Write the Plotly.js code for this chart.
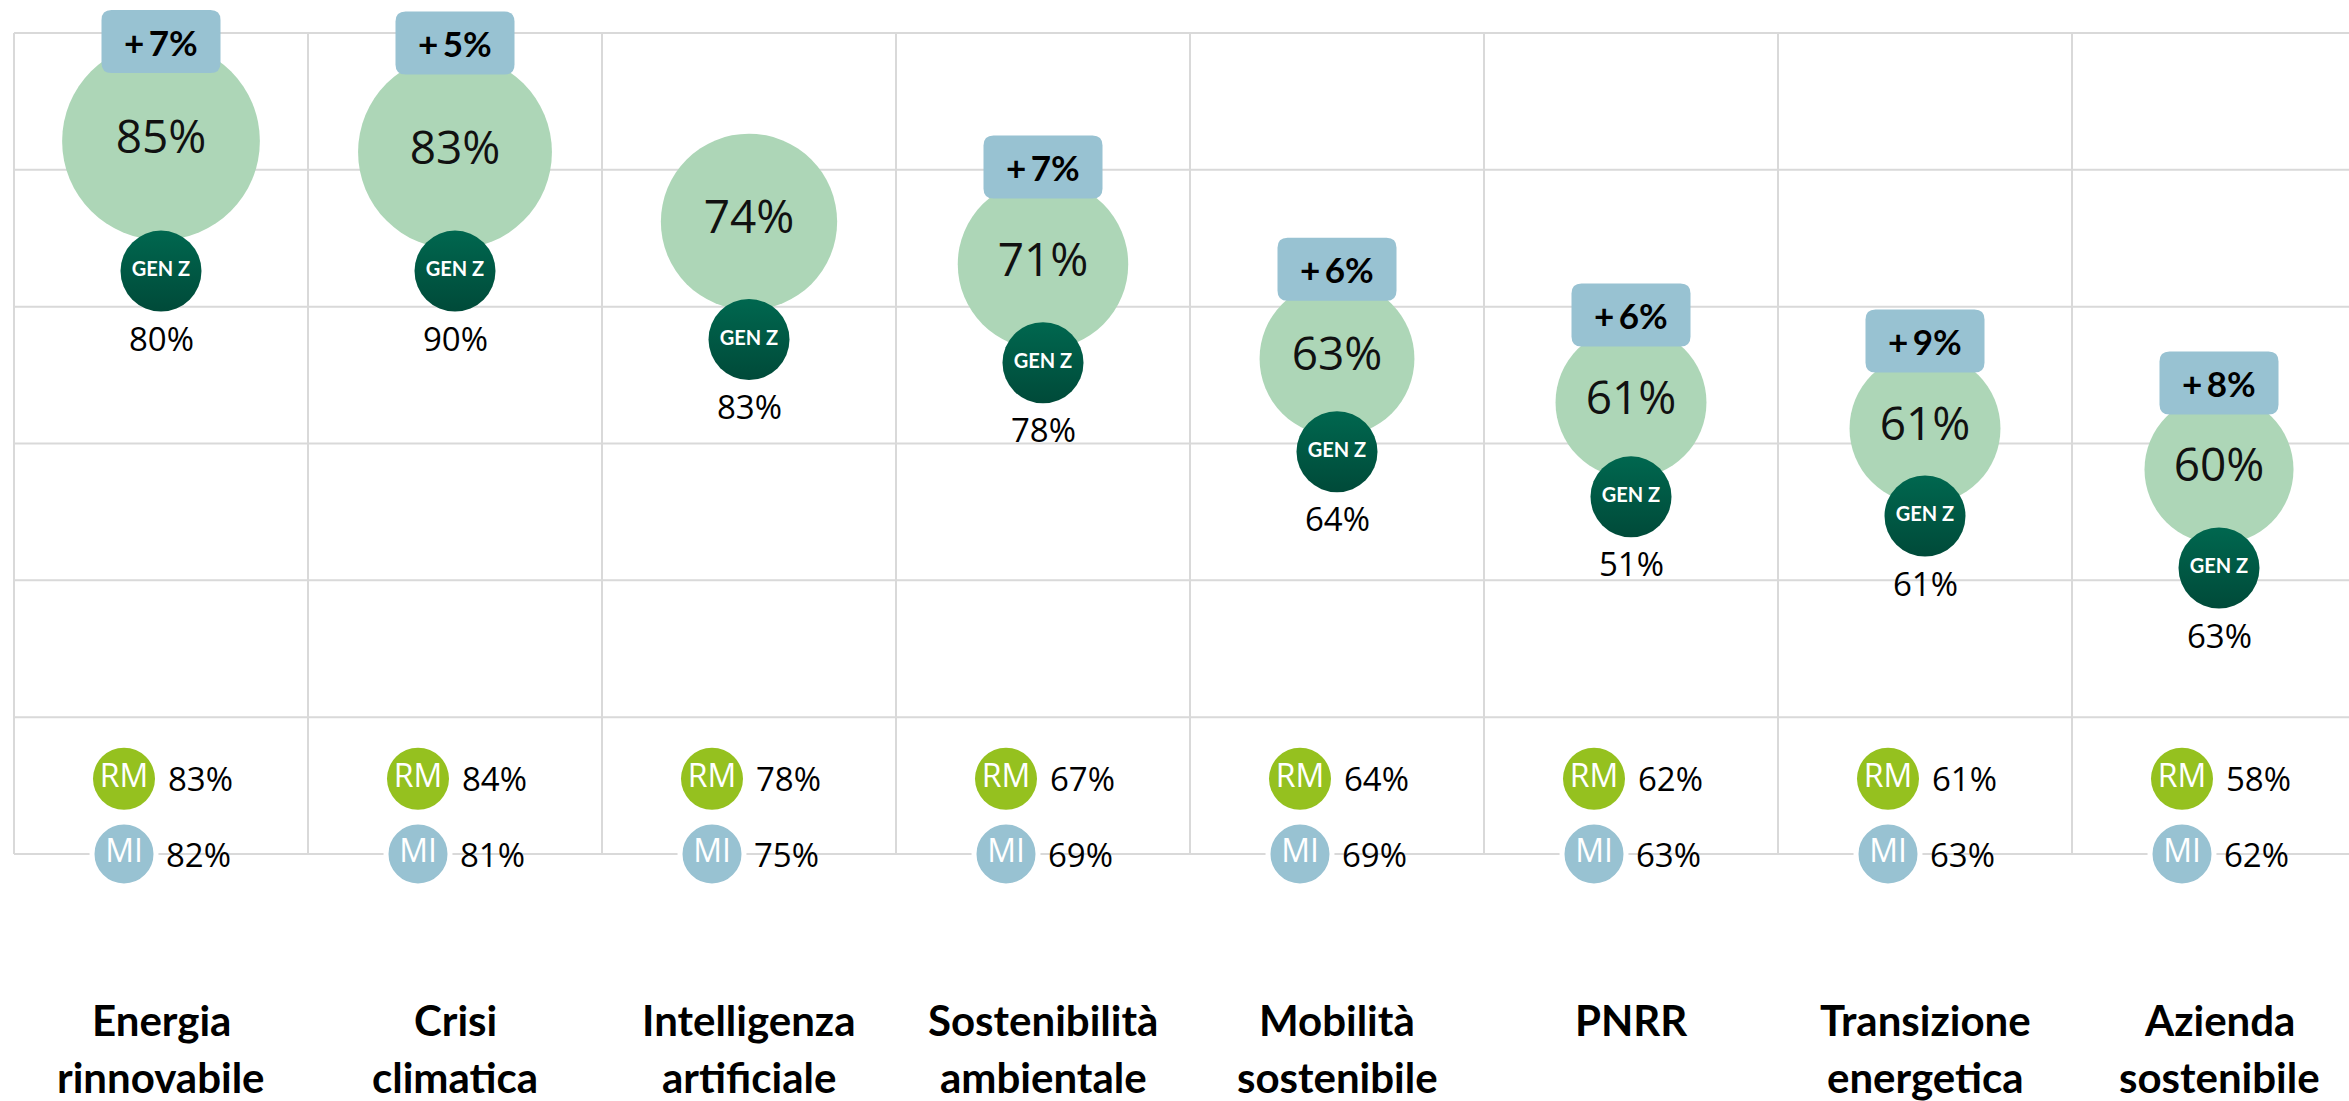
<!DOCTYPE html>
<html>
<head>
<meta charset="utf-8">
<script src="https://cdn.plot.ly/plotly-3.0.1.min.js"></script>
<style>
  html, body { margin: 0; padding: 0; background: #ffffff; }
  #chart { width: 2349px; height: 1101px; }
</style>
</head>
<body>
<div id="chart"></div>
<script>
// ---------------- DATA ----------------
const categories = ['Energia<br>rinnovabile', 'Crisi<br>climatica', 'Intelligenza<br>artificiale',
  'Sostenibilità<br>ambientale', 'Mobilità<br>sostenibile', 'PNRR',
  'Transizione<br>energetica', 'Azienda<br>sostenibile'];
const totale = [85, 83, 74, 71, 63, 61, 61, 60];      // big bubbles
const genZ = [80, 90, 83, 78, 64, 51, 61, 63];        // GEN Z
const roma = [83, 84, 78, 67, 64, 62, 61, 58];        // RM
const milano = [82, 81, 75, 69, 69, 63, 63, 62];      // MI
const delta = [7, 5, null, 7, 6, 6, 9, 8];            // "+ x%" tags

// ---------------- LAYOUT HELPERS (placement of the staircase, in grid rows) ----------------
const bubbleLevel = [5.21, 5.13, 4.62, 4.31, 3.62, 3.30, 3.11, 2.81];
const genZLevel = [4.26, 4.26, 3.76, 3.59, 2.94, 2.61, 2.47, 2.09];
const rmLevel = 0.55, miLevel = 0;

const W = 2349, H = 1101;
const ROWS = 6;
const gridTop = 33, gridBottom = 854;
const U = (gridBottom - gridTop) / ROWS;         // px per row
const COLW = 294, gridLeft = 14;
const yTop = ROWS + gridTop / U;
const yBot = ROWS - (H - gridTop) / U;
const xLeft = -0.5 - gridLeft / COLW;
const xRight = -0.5 + (W - gridLeft) / COLW;
const pxToY = px => ROWS - (px - gridTop) / U;

const xs = categories.map((_, i) => i);
const diam = v => 32 + 1.95 * v;
const pct = v => v + '%';
const badgeX = xs.map(i => i - 37 / COLW);

const GRID = '#D9D9D9';
const shapes = [];
for (let k = 0; k <= ROWS; k++) {
  shapes.push({type: 'line', xref: 'x', yref: 'y', x0: -0.5, x1: xRight + 1, y0: k, y1: k,
    line: {color: GRID, width: 2}, layer: 'below'});
}
for (let j = 0; j <= categories.length; j++) {
  shapes.push({type: 'line', xref: 'x', yref: 'y', x0: j - 0.5, x1: j - 0.5, y0: 0, y1: ROWS,
    line: {color: GRID, width: 2}, layer: 'below'});
}

const annotations = [];

// delta tags (rounded boxes)
const boxW = 119, boxH = 63, rad = 10;
const hw = boxW / 2, hh = boxH / 2;
const boxPath = `M ${-hw + rad},${hh} L ${hw - rad},${hh} Q ${hw},${hh} ${hw},${hh - rad} ` +
  `L ${hw},${-hh + rad} Q ${hw},${-hh} ${hw - rad},${-hh} L ${-hw + rad},${-hh} ` +
  `Q ${-hw},${-hh} ${-hw},${-hh + rad} L ${-hw},${hh - rad} Q ${-hw},${hh} ${-hw + rad},${hh} Z`;
const boxMaxY = pxToY(41.5);
delta.forEach((d, i) => {
  if (d === null) return;
  const yb = Math.min(bubbleLevel[i] + (diam(totale[i]) / 2 + 12) / U, boxMaxY);
  shapes.push({type: 'path', xref: 'x', yref: 'y', xsizemode: 'pixel', ysizemode: 'pixel',
    xanchor: i, yanchor: yb, path: boxPath, fillcolor: '#98C2D2', line: {width: 0}, layer: 'above'});
  annotations.push({x: i, y: yb, xref: 'x', yref: 'y', text: '+\u2009' + d + '%', showarrow: false,
    font: {family: 'Lato', size: 35, color: '#000000', weight: 700}});
});

// GEN Z values
genZ.forEach((v, i) => {
  annotations.push({x: i, y: genZLevel[i], yshift: -67, xref: 'x', yref: 'y', text: pct(v),
    showarrow: false, font: {family: 'Open Sans', size: 33, color: '#000000'}});
});

// RM / MI values
roma.forEach((v, i) => {
  annotations.push({x: badgeX[i], y: rmLevel, xshift: 42, xanchor: 'left', xref: 'x', yref: 'y',
    text: pct(v), showarrow: false, font: {family: 'Open Sans', size: 33, color: '#000000'}});
});
milano.forEach((v, i) => {
  annotations.push({x: badgeX[i], y: miLevel, xshift: 40, xanchor: 'left', xref: 'x', yref: 'y',
    text: pct(v), showarrow: false, font: {family: 'Open Sans', size: 33, color: '#000000'}});
});

// category labels (two lines)
categories.forEach((c, i) => {
  const lines = c.split('<br>');
  lines.forEach((t, k) => {
    annotations.push({x: i, y: pxToY(k === 0 ? 1020 : 1077), xref: 'x', yref: 'y', text: t,
      showarrow: false, yanchor: 'middle',
      font: {family: 'Lato', size: 42, color: '#000000', weight: 700}});
  });
});

const traces = [
  { // total bubbles
    type: 'scatter', mode: 'markers+text', x: xs, y: bubbleLevel,
    text: totale.map(pct), textposition: 'middle center',
    textfont: {family: 'Open Sans', size: 46, color: '#111111'},
    marker: {size: totale.map(diam), color: '#ADD6B7', opacity: 1, line: {width: 0}},
    cliponaxis: false, hoverinfo: 'skip'
  },
  { // GEN Z badges
    type: 'scatter', mode: 'markers+text', x: xs, y: genZLevel,
    text: xs.map(() => 'GEN Z'), textposition: 'middle center',
    textfont: {family: 'Lato', size: 20, color: '#ffffff', weight: 700},
    marker: {size: 81, color: '#00674F', opacity: 1, gradient: {type: 'vertical', color: '#004A39'}, line: {width: 0}},
    cliponaxis: false, hoverinfo: 'skip'
  },
  { // RM badges
    type: 'scatter', mode: 'markers+text', x: badgeX, y: xs.map(() => rmLevel),
    text: xs.map(() => 'RM'), textposition: 'middle center',
    textfont: {family: 'Open Sans', size: 32, color: '#ffffff'},
    marker: {size: 62, color: '#95C11F', opacity: 1, line: {width: 0}},
    cliponaxis: false, hoverinfo: 'skip'
  },
  { // MI badges
    type: 'scatter', mode: 'markers+text', x: badgeX, y: xs.map(() => miLevel),
    text: xs.map(() => 'MI'), textposition: 'middle center',
    textfont: {family: 'Open Sans', size: 32, color: '#ffffff'},
    marker: {size: 64, color: '#98C2D2', opacity: 1, line: {width: 5, color: '#ffffff'}},
    cliponaxis: false, hoverinfo: 'skip'
  }
];

const layout = {
  width: W, height: H,
  margin: {l: 0, r: 0, t: 0, b: 0, pad: 0},
  paper_bgcolor: '#ffffff', plot_bgcolor: '#ffffff',
  showlegend: false,
  xaxis: {range: [xLeft, xRight], visible: false, fixedrange: true},
  yaxis: {range: [yBot, yTop], visible: false, fixedrange: true},
  shapes: shapes,
  annotations: annotations
};

Plotly.newPlot('chart', traces, layout, {displayModeBar: false, staticPlot: true});
</script>
</body>
</html>
